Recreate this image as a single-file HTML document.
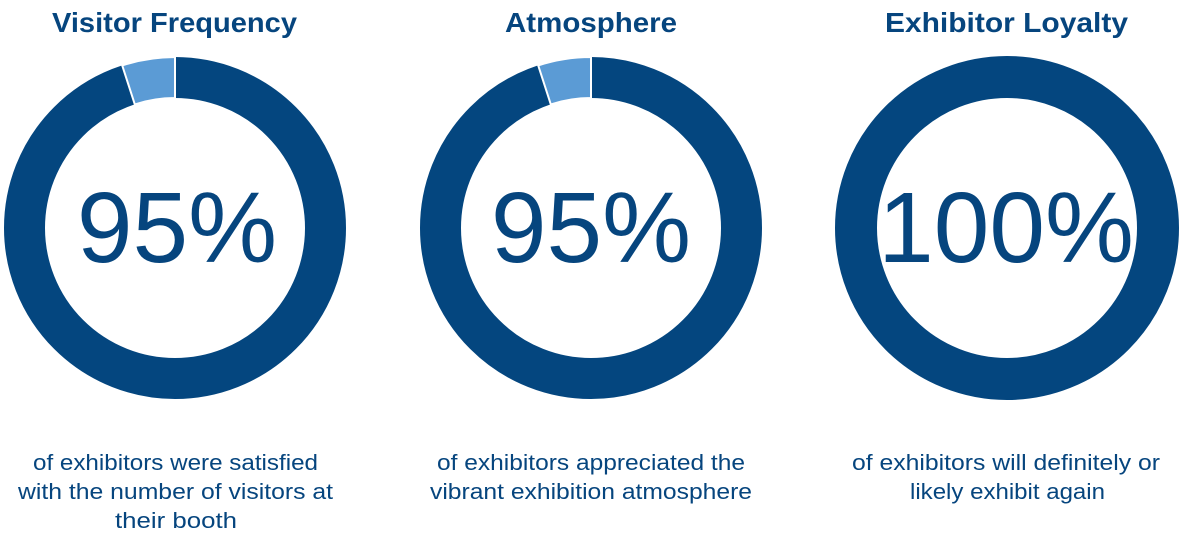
<!DOCTYPE html>
<html><head><style>html,body{margin:0;padding:0;background:#fff;}svg{display:block}</style></head>
<body>
<svg width="1182" height="539" viewBox="0 0 1182 539" xmlns="http://www.w3.org/2000/svg" font-family="Liberation Sans, sans-serif" fill="#06457e">
<g font-weight="bold" font-size="28" text-anchor="start">
<text x="52" y="32" textLength="245" lengthAdjust="spacingAndGlyphs">Visitor Frequency</text>
<text x="505" y="32" textLength="172" lengthAdjust="spacingAndGlyphs">Atmosphere</text>
<text x="885" y="32" textLength="243" lengthAdjust="spacingAndGlyphs">Exhibitor Loyalty</text>
</g>
<!-- donut 1 -->
<circle cx="175" cy="228" r="150.5" fill="none" stroke="#04467f" stroke-width="41"/>
<path d="M175 57 A171 171 0 0 0 122.2 65.4 L134.8 104.4 A130 130 0 0 1 175 98 Z" fill="#5b9bd5" stroke="#fff" stroke-width="2"/>
<!-- donut 2 -->
<circle cx="591" cy="228" r="150.5" fill="none" stroke="#04467f" stroke-width="41"/>
<path d="M591 57 A171 171 0 0 0 538.2 65.4 L550.8 104.4 A130 130 0 0 1 591 98 Z" fill="#5b9bd5" stroke="#fff" stroke-width="2"/>
<!-- donut 3 -->
<circle cx="1007" cy="228" r="151" fill="none" stroke="#04467f" stroke-width="42"/>
<g font-size="100" text-anchor="middle">
<text x="177" y="262">95%</text>
<text x="591" y="262">95%</text>
<text x="1006" y="262">100%</text>
</g>
<g font-size="22">
<text x="33" y="470" textLength="285" lengthAdjust="spacingAndGlyphs">of exhibitors were satisfied</text>
<text x="18" y="499" textLength="315" lengthAdjust="spacingAndGlyphs">with the number of visitors at</text>
<text x="115" y="528" textLength="122" lengthAdjust="spacingAndGlyphs">their booth</text>
<text x="437" y="470" textLength="308" lengthAdjust="spacingAndGlyphs">of exhibitors appreciated the</text>
<text x="430" y="499" textLength="322" lengthAdjust="spacingAndGlyphs">vibrant exhibition atmosphere</text>
<text x="852" y="470" textLength="308" lengthAdjust="spacingAndGlyphs">of exhibitors will definitely or</text>
<text x="910" y="499" textLength="195" lengthAdjust="spacingAndGlyphs">likely exhibit again</text>
</g>
</svg>
</body></html>
